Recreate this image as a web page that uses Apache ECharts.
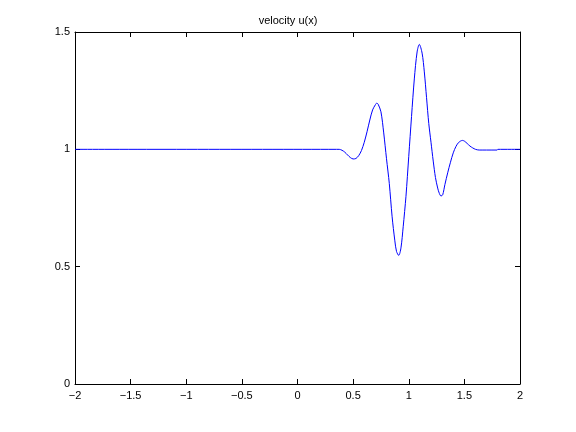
<!DOCTYPE html>
<html>
<head>
<meta charset="utf-8">
<script src="https://cdn.jsdelivr.net/npm/echarts@6/dist/echarts.min.js"></script>
<style>html,body{margin:0;padding:0;background:#fff}#c{width:576px;height:432px}</style>
</head>
<body>
<div id="c"></div>
<script>
var titleText = 'velocity u(x)';
var xs = [-2, 0.35, 0.375, 0.40, 0.425, 0.45, 0.475, 0.50, 0.525, 0.55, 0.575, 0.60, 0.625, 0.65, 0.675, 0.70, 0.713, 0.725, 0.75, 0.775, 0.80, 0.825, 0.85, 0.875, 0.89, 0.91, 0.93, 0.95, 0.975, 1.00, 1.025, 1.05, 1.075, 1.095, 1.12, 1.14, 1.16, 1.18, 1.20, 1.22, 1.24, 1.26, 1.275, 1.29, 1.305, 1.325, 1.35, 1.375, 1.40, 1.425, 1.45, 1.483, 1.50, 1.525, 1.55, 1.575, 1.60, 1.633, 1.70, 1.795, 1.80, 2.0];
var ys = [1.0, 1.0, 1.0, 0.996, 0.988, 0.976, 0.965, 0.959, 0.961, 0.973, 0.995, 1.03, 1.075, 1.125, 1.168, 1.19, 1.197, 1.192, 1.16, 1.07, 0.96, 0.855, 0.715, 0.61, 0.565, 0.548, 0.58, 0.67, 0.80, 0.97, 1.14, 1.30, 1.415, 1.447, 1.41, 1.33, 1.22, 1.11, 1.03, 0.95, 0.88, 0.835, 0.812, 0.801, 0.806, 0.85, 0.90, 0.945, 0.985, 1.013, 1.03, 1.038, 1.035, 1.025, 1.014, 1.006, 1.0, 0.997, 0.997, 0.997, 1.0, 1.0];
var xTicks = [-2, -1.5, -1, -0.5, 0, 0.5, 1, 1.5, 2];
var yTicks = [0, 0.5, 1, 1.5];

var data = xs.map(function (x, i) { return [x, ys[i]]; });
var fontFam = 'Liberation Sans, Arial, Helvetica, sans-serif';
function fmt(v) { return String(v).replace('-', '\u2212'); }
var chart = echarts.init(document.getElementById('c'), null, {renderer: 'canvas'});
var lineStyle = {color: '#000', width: 1};
function axis(kind, pos, labels) {
  var t = kind === 'x' ? xTicks : yTicks;
  return {
    type: 'value', min: t[0], max: t[t.length - 1], interval: 0.5, position: pos,
    axisLine: {show: true, onZero: false, lineStyle: lineStyle},
    axisTick: {show: true, inside: true, length: 5, lineStyle: lineStyle},
    axisLabel: labels ? {color: '#000', fontFamily: fontFam, fontSize: 11, margin: kind === 'x' ? 6 : 5, formatter: fmt} : {show: false},
    splitLine: {show: false}
  };
}
chart.setOption({
  animation: false,
  backgroundColor: '#fff',
  title: {text: titleText, left: 'center', top: 10, textStyle: {fontFamily: fontFam, fontSize: 11, fontWeight: 'normal', color: '#000'}},
  grid: {left: 75, right: 56, top: 32, bottom: 48, containLabel: false},
  xAxis: [axis('x', 'bottom', true), axis('x', 'top', false)],
  yAxis: [axis('y', 'left', true), axis('y', 'right', false)],
  series: [{
    type: 'line', data: data, xAxisIndex: 0, yAxisIndex: 0,
    showSymbol: false, smooth: 0.3,
    lineStyle: {color: '#0000ff', width: 1}
  }]
});
</script>
</body>
</html>
